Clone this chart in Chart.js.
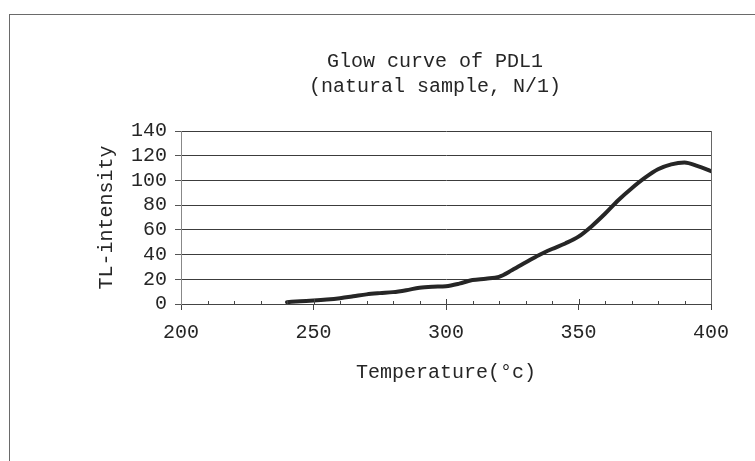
<!DOCTYPE html>
<html>
<head>
<meta charset="utf-8">
<script src="https://cdn.jsdelivr.net/npm/chart.js@4/dist/chart.umd.min.js"></script>
<style>
  html, body { margin: 0; padding: 0; background: #ffffff; overflow: hidden; }
  canvas { display: block; }
</style>
</head>
<body>
<canvas id="c" width="755" height="461"></canvas>
<script>
// ---- data ----
const titleLines = ['Glow curve of PDL1', '(natural sample, N/1)'];
const xTitle = 'Temperature(\u00B0c)';
const yTitle = 'TL-intensity';
const temperature = [240, 245, 250, 255, 260, 265, 270, 275, 280, 285, 290, 295, 300, 305, 310, 315, 320, 325, 330, 335, 340, 345, 350, 355, 360, 365, 370, 375, 380, 385, 390, 395, 400];
const intensity   = [1.5, 2.2, 2.8, 3.6, 4.7, 6.2, 7.8, 8.8, 9.6, 11.2, 13.2, 14.0, 14.4, 16.5, 19.4, 20.5, 22, 27.5, 33.5, 39.5, 44.5, 49, 54.5, 63, 73, 84, 93.5, 102, 109, 113, 114.5, 111.5, 107.5];
const xMin = 200, xMax = 400, xMajorStep = 50, xMinorStep = 10;
const yMin = 0, yMax = 140, yStep = 20;

const FONT = '"Liberation Mono", "Courier New", monospace';
const TEXT = '#262626';

const points = temperature.map((t, i) => ({ x: t, y: intensity[i] }));

const decorPlugin = {
  id: 'decor',
  beforeDraw(chart) {
    const ctx = chart.ctx;
    ctx.save();
    ctx.fillStyle = '#ffffff';
    ctx.fillRect(0, 0, chart.width, chart.height);
    // outer frame (extends beyond the page on the right / bottom)
    ctx.strokeStyle = '#6a6a6a';
    ctx.lineWidth = 1;
    ctx.strokeRect(9.5, 14.5, 1000, 1000);
    ctx.restore();
  },
  afterDraw(chart) {
    const ctx = chart.ctx;
    const xs = chart.scales.x, ys = chart.scales.y;
    const y0 = ys.getPixelForValue(0);
    ctx.save();
    // right edge of plot area
    ctx.strokeStyle = '#666666';
    ctx.lineWidth = 1;
    const xr = Math.round(xs.getPixelForValue(xMax)) + 0.5;
    ctx.beginPath();
    ctx.moveTo(xr, ys.getPixelForValue(yMax));
    ctx.lineTo(xr, y0);
    ctx.stroke();
    // minor and major tick marks on the x axis (upward part)
    ctx.strokeStyle = '#444444';
    for (let v = xMin + xMinorStep; v < xMax; v += xMinorStep) {
      const px = Math.round(xs.getPixelForValue(v)) + 0.5;
      const major = (v % xMajorStep) === 0;
      ctx.beginPath();
      ctx.moveTo(px, y0);
      ctx.lineTo(px, y0 - (major ? 5 : 3));
      ctx.stroke();
    }
    // chart title
    ctx.fillStyle = TEXT;
    ctx.font = '20px ' + FONT;
    ctx.textAlign = 'center';
    ctx.textBaseline = 'middle';
    ctx.fillText(titleLines[0], 435, 62);
    ctx.fillText(titleLines[1], 435, 87);
    ctx.restore();
  }
};

new Chart(document.getElementById('c'), {
  type: 'line',
  data: {
    datasets: [{
      data: points,
      borderColor: '#262626',
      borderWidth: 4,
      pointRadius: 0,
      fill: false,
      tension: 0.4,
      cubicInterpolationMode: 'monotone',
      borderCapStyle: 'round',
      borderJoinStyle: 'round'
    }]
  },
  options: {
    responsive: false,
    animation: false,
    devicePixelRatio: 1,
    layout: { padding: { left: 80, right: 44, top: 131, bottom: 57 } },
    plugins: {
      legend: { display: false },
      title: { display: false },
      tooltip: { enabled: false }
    },
    scales: {
      x: {
        type: 'linear',
        min: xMin,
        max: xMax,
        afterFit(scale) { scale.height = 100; },
        ticks: {
          stepSize: xMajorStep,
          autoSkip: false,
          color: TEXT,
          font: { family: FONT, size: 20 },
          padding: 11,
          maxRotation: 0
        },
        grid: {
          drawOnChartArea: false,
          drawTicks: true,
          tickLength: 6,
          tickColor: '#444444'
        },
        border: { display: true, color: '#444444', width: 1 },
        title: {
          display: true,
          text: xTitle,
          color: TEXT,
          font: { family: FONT, size: 20 },
          padding: { top: 0, bottom: 19 }
        }
      },
      y: {
        min: yMin,
        max: yMax,
        afterFit(scale) { scale.width = 101; },
        ticks: {
          stepSize: yStep,
          autoSkip: false,
          color: TEXT,
          font: { family: FONT, size: 20 },
          padding: 8
        },
        grid: {
          color: '#3c3c3c',
          lineWidth: 1,
          tickLength: 6,
          tickColor: '#555555'
        },
        border: { display: true, color: '#888888', width: 1 },
        title: {
          display: true,
          text: yTitle,
          color: TEXT,
          font: { family: FONT, size: 20 },
          padding: { top: 15, bottom: 0 }
        }
      }
    }
  },
  plugins: [decorPlugin]
});
</script>
</body>
</html>
